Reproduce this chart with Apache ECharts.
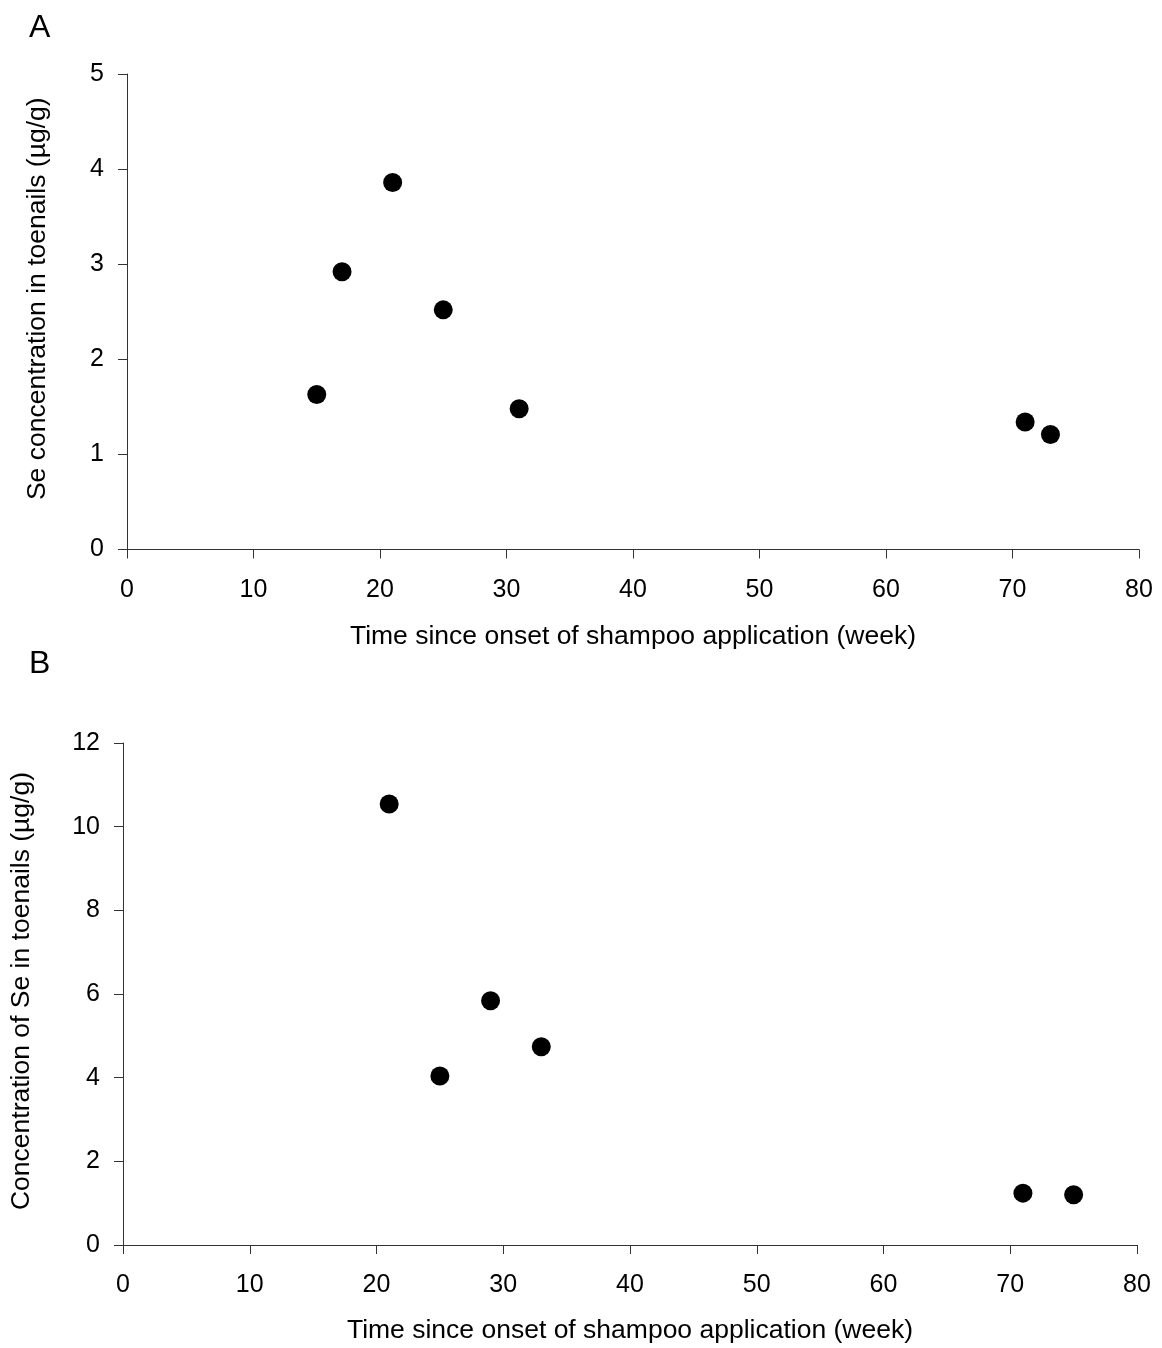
<!DOCTYPE html>
<html>
<head>
<meta charset="utf-8">
<script src="https://cdn.jsdelivr.net/npm/echarts@6/dist/echarts.min.js"></script>
<style>html,body{margin:0;padding:0;background:#fff}#c{width:1162px;height:1348px}</style>
</head>
<body>
<div id="c"></div>
<script>
var weeksA = [15, 17, 21, 25, 31, 71, 73];
var seA = [1.63, 2.92, 3.86, 2.52, 1.48, 1.34, 1.21];
var weeksB = [21, 25, 29, 33, 71, 75];
var seB = [10.54, 4.04, 5.84, 4.74, 1.24, 1.20];
var xTitle = 'Time since onset of shampoo application (week)';
var yTitleA = 'Se concentration in toenails (\u00b5g/g)';
var yTitleB = 'Concentration of Se in toenails (\u00b5g/g)';

function pairs(xs, ys){ return xs.map(function(x,i){ return [x, ys[i]]; }); }

var font = 'Liberation Sans, Arial, sans-serif';
var axisLine = {show:true, lineStyle:{color:'#333', width:1}};
var axisTick = {show:true, inside:false, length:9, lineStyle:{color:'#333', width:1}};
var labelStyle = {color:'#000', fontSize:25, fontFamily:font};

function xAxis(idx, gap){
  return {type:'value', gridIndex:idx, min:0, max:80, interval:10,
    axisLine:axisLine, axisTick:axisTick, splitLine:{show:false},
    axisLabel:Object.assign({margin:28}, labelStyle),
    name:xTitle, nameLocation:'middle', nameGap:gap,
    nameTextStyle:{color:'#000', fontSize:26.5, fontFamily:font}};
}
function yAxis(idx, max, interval, name, gap, pad){
  return {type:'value', gridIndex:idx, min:0, max:max, interval:interval,
    axisLine:axisLine, axisTick:axisTick, splitLine:{show:false},
    axisLabel:Object.assign({margin:23}, labelStyle),
    name:name, nameLocation:'middle', nameGap:gap, nameRotate:90,
    nameTextStyle:{color:'#000', fontSize:26.5, fontFamily:font, padding:pad}};
}

var chart = echarts.init(document.getElementById('c'), null, {renderer:'canvas'});
chart.setOption({
  backgroundColor:'#fff',
  animation:false,
  title:[
    {text:'A', left:24, top:7, textStyle:{fontSize:32, fontWeight:'normal', color:'#000', fontFamily:font}},
    {text:'B', left:24, top:643, textStyle:{fontSize:32, fontWeight:'normal', color:'#000', fontFamily:font}}
  ],
  grid:[
    {left:127, top:74, width:1012, height:475.5},
    {left:123, top:743, width:1014, height:502}
  ],
  xAxis:[xAxis(0, 74), xAxis(1, 72)],
  yAxis:[yAxis(0, 5, 1, yTitleA, 76, [0,0,0,26]), yAxis(1, 12, 2, yTitleB, 88, [0,0,0,6])],
  series:[
    {type:'scatter', xAxisIndex:0, yAxisIndex:0, data:pairs(weeksA, seA), symbol:'circle', symbolSize:19, itemStyle:{color:'#000', opacity:1}},
    {type:'scatter', xAxisIndex:1, yAxisIndex:1, data:pairs(weeksB, seB), symbol:'circle', symbolSize:19, itemStyle:{color:'#000', opacity:1}}
  ]
});
</script>
</body>
</html>
